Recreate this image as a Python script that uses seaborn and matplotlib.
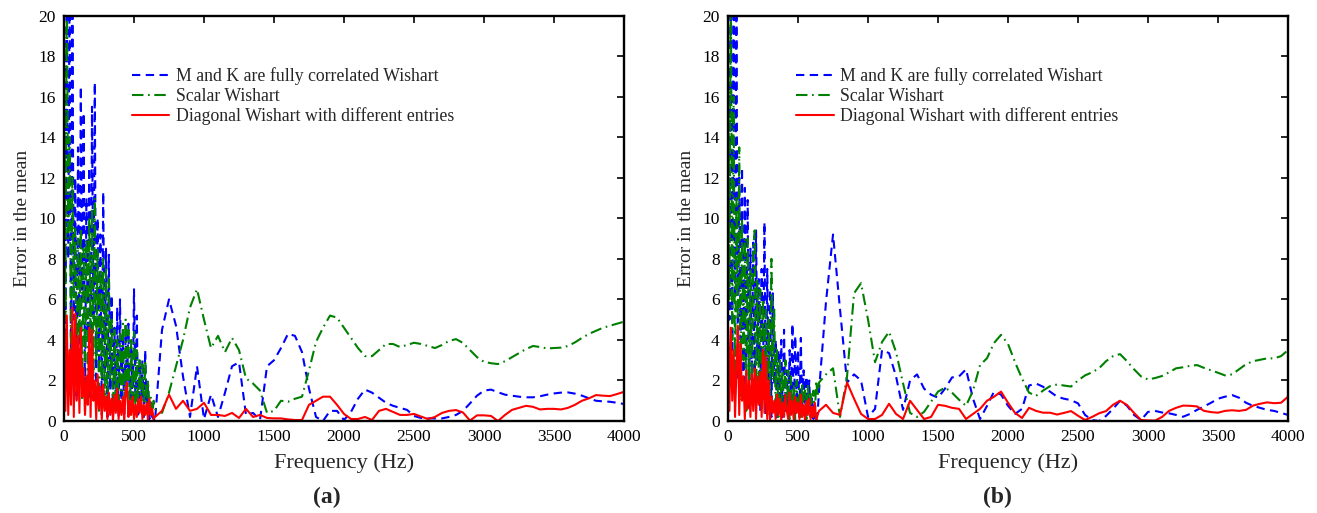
import matplotlib
matplotlib.use("Agg")
import matplotlib.pyplot as plt
import seaborn as sns

sns.set_theme(style="white")
plt.rcParams["font.family"] = ["Liberation Serif", "DejaVu Serif"]
plt.rcParams["mathtext.fontset"] = "stix"

# ---- frequency grids (Hz) ----
FREQ_LOW = list(range(0, 650, 10))      # dense oscillating part
FREQ_HIGH = list(range(650, 4001, 50))  # smooth part

SERIES_NAMES = ["M and K are fully correlated Wishart",
                "Scalar Wishart",
                "Diagonal Wishart with different entries"]

# ---------------- panel (a) ----------------
blue_a_low = [22, 4, 22, 8, 22, 2, 20, 5, 12, 1,
              13.5, 3, 16.5, 6, 15.2, 0.5, 11, 4, 12.5, 1,
              15.5, 5, 16.7, 0.8, 10, 3, 9.2, 0.3, 11.3, 2,
              8.5, 0.2, 8.2, 1.5, 6.2, 0.1, 4.6, 1.2, 5.6, 0.2,
              6.0, 1.0, 4.2, 0.1, 4.4, 1.5, 4.8, 0.3, 3.6, 0.5,
              6.5, 1.0, 5.2, 0.2, 2.9, 0.6, 3.0, 0.1, 3.5, 0.4,
              1.8, 0.1, 0.9, 0.2, 0.1]
green_a_low = [22, 5, 22, 9, 14, 3, 12, 6, 9.5, 2,
               9, 4, 9.5, 1, 8.5, 3, 9, 2, 10, 4,
               10.5, 1.5, 11, 3, 8.5, 0.5, 7.5, 2, 8, 1,
               7.5, 0.8, 7, 2, 5, 0.4, 4.5, 1, 4, 0.3,
               4.3, 1.5, 4.8, 0.5, 5, 1.2, 4.5, 0.3, 4, 1,
               4.4, 0.6, 3.5, 0.5, 3, 0.8, 2.8, 0.3, 3, 0.5,
               2, 0.4, 1.2, 0.2, 1]
red_a_low = [5.6, 0.5, 5.2, 0.3, 3.5, 0.8, 5.6, 0.2, 5.3, 1,
             4.2, 0.4, 4.6, 1.2, 2.6, 0.3, 2.2, 0.8, 4.6, 0.2,
             4.5, 1, 2, 0.1, 2.3, 0.6, 1.7, 0.1, 1.8, 0.5,
             1.2, 0.1, 1.4, 0.3, 1.1, 0.05, 1.3, 0.4, 1.6, 0.1,
             1.0, 0.3, 1.2, 0.05, 1.5, 1.9, 0.2, 1.0, 0.3, 1.2,
             0.1, 0.8, 0.2, 1.1, 0.4, 1.2, 0.1, 0.8, 0.3, 0.9,
             0.05, 1.1, 0.3, 0.6, 0.1]
blue_a_high = [0.0, 4.5, 6.0, 4.7, 2.2, 0.2, 2.7, 0.1, 1.3, 0.2,
               1.4, 2.7, 2.9, 0.3, 0.4, 0.05, 2.7, 3.0, 3.6, 4.3,
               4.2, 3.4, 1.6, 0.2, 0.0, 0.5, 0.5, 0.05, 0.45, 1.1,
               1.55, 1.4, 1.15, 0.9, 0.75, 0.65, 0.55, 0.25, 0.15, 0.13,
               0.13, 0.13, 0.2, 0.3, 0.5, 0.87, 1.25, 1.5, 1.55, 1.42,
               1.3, 1.25, 1.2, 1.17, 1.17, 1.22, 1.3, 1.36, 1.4, 1.41,
               1.35, 1.25, 1.12, 1.0, 0.97, 0.95, 0.9, 0.84]
green_a_high = [0.6, 0.4, 1.4, 2.7, 4.0, 5.6, 6.5, 5.0, 3.6, 4.2,
                3.4, 4.1, 3.5, 2.1, 1.85, 1.5, 0.4, 0.5, 1.0, 0.95,
                1.1, 1.2, 2.5, 3.9, 4.6, 5.2, 5.1, 4.6, 4.1, 3.6,
                3.2, 3.2, 3.5, 3.8, 3.8, 3.65, 3.75, 3.86, 3.8, 3.7,
                3.6, 3.75, 3.95, 4.04, 3.85, 3.5, 3.15, 2.92, 2.85, 2.81,
                2.95, 3.15, 3.35, 3.55, 3.7, 3.65, 3.58, 3.6, 3.62, 3.7,
                3.88, 4.1, 4.3, 4.45, 4.6, 4.7, 4.8, 4.9]
red_a_high = [0.2, 0.5, 1.3, 0.6, 1.0, 0.5, 0.6, 0.9, 0.3, 0.3,
              0.25, 0.4, 0.15, 0.6, 0.2, 0.3, 0.15, 0.13, 0.13, 0.08,
              0.05, 0.05, 0.8, 1.0, 1.2, 1.2, 0.8, 0.35, 0.1, 0.1,
              0.2, 0.05, 0.5, 0.6, 0.45, 0.3, 0.3, 0.35, 0.22, 0.1,
              0.2, 0.4, 0.5, 0.54, 0.42, 0.02, 0.28, 0.28, 0.25, 0.0,
              0.3, 0.55, 0.65, 0.75, 0.7, 0.57, 0.6, 0.6, 0.57, 0.65,
              0.8, 1.0, 1.12, 1.28, 1.25, 1.23, 1.33, 1.44]

# ---------------- panel (b) ----------------
blue_b_low = [22, 5, 22, 3, 22, 6, 21, 2, 12, 4,
              12.5, 1, 11.5, 3, 10.9, 0.5, 8.5, 2, 8.8, 1,
              9.4, 3, 7, 0.5, 7.5, 2, 9.8, 0.3, 7.5, 1.5,
              6.5, 0.2, 6.3, 1.8, 4, 0.1, 3.5, 0.8, 4.0, 0.2,
              4.5, 0.5, 2.5, 0.2, 3.5, 1, 4.8, 0.1, 4.2, 0.8,
              3.5, 0.2, 4.1, 0.3, 2.5, 0.1, 2.2, 0.5, 2.0, 0.2,
              1.2, 0.1, 0.8, 0.2, 0.4]
green_b_low = [22, 6, 22, 4, 16, 2, 11, 5, 13.5, 1,
               10, 3, 9, 0.5, 9, 2, 7.5, 0.8, 8.5, 9.4,
               1, 7, 2, 6.5, 0.5, 6, 1.5, 5.5, 0.3, 5,
               1, 8, 2, 5.5, 0.4, 3.5, 0.2, 3, 0.8, 2.5,
               0.2, 3, 0.5, 2.5, 0.1, 2.2, 0.6, 1.8, 0.1, 2,
               0.4, 1.6, 0.2, 1.9, 0.3, 1.5, 0.1, 1.8, 0.5, 1.4,
               0.2, 1.5, 0.3, 2.0, 1.2]
red_b_low = [4.7, 0.5, 4.6, 1, 3.5, 0.2, 2.5, 4.7, 0.3, 3.8,
             1, 2.2, 0.1, 2.5, 0.6, 2.0, 0.2, 2.3, 0.5, 2.6,
             0.1, 2.2, 0.8, 2.4, 0.2, 3.5, 0.4, 3.2, 0.1, 2.0,
             0.05, 1.2, 0.4, 1.0, 0.1, 1.3, 0.3, 1.1, 0.05, 0.9,
             0.2, 1.3, 0.5, 0.1, 1.4, 0.3, 1.0, 0.05, 1.2, 0.4,
             0.9, 0.1, 1.3, 0.2, 0.8, 0.05, 1.0, 0.3, 1.1, 0.1,
             0.7, 0.2, 0.9, 0.0, 0.3]
blue_b_high = [1.5, 5.9, 9.2, 5.5, 1.9, 2.3, 2.0, 0.2, 0.6, 3.5,
               3.35, 2.2, 0.55, 2.0, 2.3, 1.6, 1.3, 1.15, 1.6, 2.15,
               2.2, 2.55, 1.1, 0.1, 0.75, 1.45, 1.3, 0.75, 0.35, 0.6,
               1.75, 1.85, 1.69, 1.45, 1.2, 1.1, 1.03, 0.87, 0.3, 0.05,
               0.0, 0.25, 0.6, 1.0, 0.75, 0.3, 0.05, 0.45, 0.5, 0.42,
               0.38, 0.3, 0.21, 0.35, 0.55, 0.72, 0.9, 1.1, 1.2, 1.28,
               1.15, 0.9, 0.75, 0.65, 0.55, 0.5, 0.4, 0.3]
green_b_high = [1.9, 2.3, 2.6, 0.2, 2.2, 6.3, 6.8, 5.0, 2.9, 3.9,
                4.4, 3.4, 1.86, 0.4, 0.2, 0.45, 0.95, 1.45, 1.65, 1.4,
                1.05, 0.75, 1.5, 2.76, 3.1, 3.85, 4.25, 3.8, 2.9, 2.1,
                1.4, 1.24, 1.5, 1.72, 1.8, 1.75, 1.7, 2.0, 2.25, 2.4,
                2.6, 2.95, 3.2, 3.3, 2.95, 2.55, 2.2, 2.05, 2.12, 2.22,
                2.4, 2.6, 2.65, 2.72, 2.76, 2.62, 2.5, 2.38, 2.25, 2.3,
                2.55, 2.8, 2.95, 3.02, 3.09, 3.09, 3.2, 3.5]
red_b_high = [0.5, 0.8, 0.4, 0.3, 1.9, 1.1, 0.35, 0.1, 0.1, 0.3,
              0.85, 0.35, 0.1, 1.0, 0.55, 0.1, 0.2, 0.8, 0.75, 0.65,
              0.6, 0.1, 0.35, 0.6, 1.0, 1.2, 1.45, 0.9, 0.4, 0.15,
              0.65, 0.5, 0.41, 0.41, 0.32, 0.4, 0.49, 0.26, 0.05, 0.2,
              0.38, 0.49, 0.8, 1.0, 0.79, 0.4, 0.05, 0.03, 0.02, 0.2,
              0.5, 0.65, 0.76, 0.75, 0.72, 0.5, 0.44, 0.41, 0.5, 0.53,
              0.5, 0.55, 0.76, 0.85, 0.92, 0.88, 0.9, 1.2]

X_TICKS = [0, 500, 1000, 1500, 2000, 2500, 3000, 3500, 4000]
Y_TICKS = [0, 2, 4, 6, 8, 10, 12, 14, 16, 18, 20]

STYLES = [dict(color="#0000ff", dashes=(4.0, 2.6)),
          dict(color="#008000", dashes=(5.5, 2.2, 0.8, 2.2)),
          dict(color="#ff0000", dashes=None)]

fig = plt.figure(figsize=(13.17, 5.13), dpi=100)
ax_a = fig.add_axes([0.0486, 0.1793, 0.4252, 0.7904])
ax_b = fig.add_axes([0.5528, 0.1793, 0.4252, 0.7904])

panels = [
    (ax_a, [(blue_a_low, blue_a_high), (green_a_low, green_a_high), (red_a_low, red_a_high)], "(a)", 0.248),
    (ax_b, [(blue_b_low, blue_b_high), (green_b_low, green_b_high), (red_b_low, red_b_high)], "(b)", 0.757),
]

freq = FREQ_LOW + FREQ_HIGH
for ax, series, tag, tag_x in panels:
    for (low, high), name, st in zip(series, SERIES_NAMES, STYLES):
        vals = list(low) + list(high)
        sns.lineplot(x=freq, y=vals, ax=ax, estimator=None, sort=False,
                     label=name, color=st["color"], linewidth=1.5)
        ln = ax.lines[-1]
        if st["dashes"] is not None:
            ln.set_dashes(st["dashes"])
    ax.set_xlim(0, 4000)
    ax.set_ylim(0, 20)
    ax.set_xticks(X_TICKS)
    ax.set_yticks(Y_TICKS)
    ax.tick_params(direction="in", top=True, right=True, length=5, width=1.2,
                   labelsize=12.5, pad=6, colors="black")
    for s in ax.spines.values():
        s.set_visible(True)
        s.set_color("black")
        s.set_linewidth(1.7)
    ax.set_xlabel("Frequency (Hz)", fontsize=16, labelpad=6)
    ax.set_ylabel("Error in the mean", fontsize=14, labelpad=5)
    ax.grid(False)
    handles = ax.lines[:3]
    ax.legend(handles, SERIES_NAMES, loc="upper left", bbox_to_anchor=(0.109, 0.89),
              frameon=False, fontsize=12.8, handlelength=2.1, handletextpad=0.35,
              labelspacing=0.15, borderaxespad=0.0)
    fig.text(tag_x, 0.031, tag, fontsize=17, fontweight="bold", ha="center", va="center")

fig.savefig("out.png", dpi=100, facecolor="white")
